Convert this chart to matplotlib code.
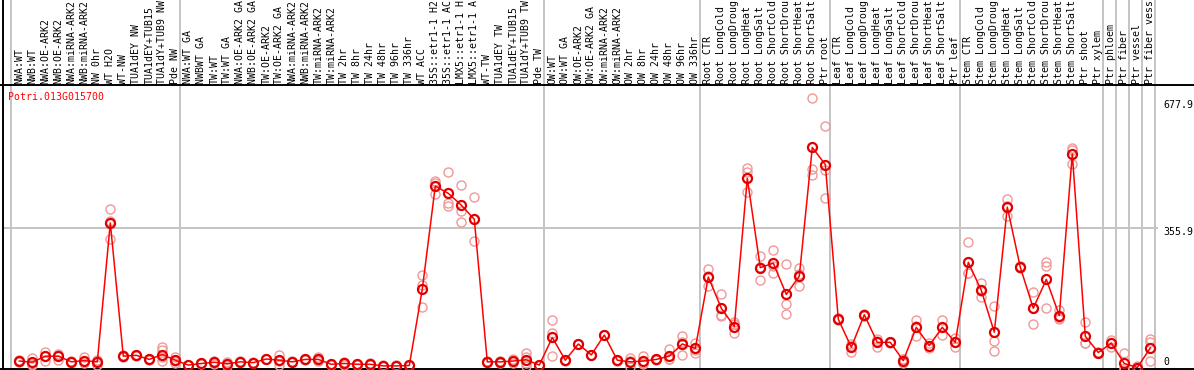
import matplotlib
matplotlib.use("Agg")
import matplotlib.pyplot as plt

gene = "Potri.013G015700"

labels = [
    "NWA:WT", "NWB:WT", "NWA:OE-ARK2", "NWB:OE-ARK2", "NWA:miRNA-ARK2", "NWB:miRNA-ARK2",
    "NW 0hr", "WT H2O", "WT-NW", "TUA1dEY NW", "TUA1dEY+TUB15", "TUA1dY+TUB9 NW", "Pde NW",
    "NWA:WT GA", "NWBWT GA", "TW:WT", "TW:WT GA", "NWA:OE-ARK2 GA", "NWB:OE-ARK2 GA",
    "TW:OE-ARK2", "TW:OE-ARK2 GA", "NWA:miRNA-ARK2", "NWB:miRNA-ARK2", "TW:miRNA-ARK2",
    "TW:miRNA-ARK2", "TW 2hr", "TW 8hr", "TW 24hr", "TW 48hr", "TW 96hr", "TW 336hr",
    "WT ACC", "35S::etr1-1 H2O", "35S::etr1-1 ACC", "LMX5::etr1-1 H2O", "LMX5::etr1-1 ACC",
    "WT-TW", "TUA1dEY TW", "TUA1dEY+TUB15", "TUA1dY+TUB9 TW", "Pde TW",
    "OW:WT", "OW:WT GA", "OW:OE-ARK2", "OW:OE-ARK2 GA", "OW:miRNA-ARK2", "OW:miRNA-ARK2",
    "OW 2hr", "OW 8hr", "OW 24hr", "OW 48hr", "OW 96hr", "OW 336hr",
    "Root CTR", "Root LongCold", "Root LongDrought", "Root LongHeat", "Root LongSalt",
    "Root ShortCold", "Root ShortDrought", "Root ShortHeat", "Root ShortSalt", "Ptr root",
    "Leaf CTR", "Leaf LongCold", "Leaf LongDrought", "Leaf LongHeat", "Leaf LongSalt",
    "Leaf ShortCold", "Leaf ShortDrought", "Leaf ShortHeat", "Leaf ShortSalt", "Ptr leaf",
    "Stem CTR", "Stem LongCold", "Stem LongDrought", "Stem LongHeat", "Stem LongSalt",
    "Stem ShortCold", "Stem ShortDrought", "Stem ShortHeat", "Stem ShortSalt", "Ptr shoot",
    "Ptr xylem", "Ptr phloem", "Ptr fiber", "Ptr vessel", "Ptr fiber vessel",
]

means = [
    29, 26, 41, 41, 27, 30, 27, 369, 41, 43, 33, 45, 31,
    19, 23, 26, 22, 27, 25, 34, 31, 27, 33, 33, 21, 23, 21, 21, 17, 17, 18,
    206, 460, 442, 413, 378, 27, 27, 29, 32, 19,
    87, 31, 71, 44, 93, 31, 27, 29, 33, 41, 71, 60,
    236, 159, 114, 479, 259, 270, 193, 238, 555, 513,
    132, 63, 143, 75, 75, 30, 112, 67, 112, 75,
    272, 203, 100, 408, 260, 159, 230, 141, 539, 90, 50,
    73, 23, 13, 61,
]

replicates = [
    [29, 31, 27], [36, 22, 20], [52, 29, 41], [45, 31, 46], [27, 28, 26], [39, 23, 30],
    [31, 19, 30], [403, 329, 375], [41, 39, 43], [43, 44, 42], [33, 34, 32],
    [64, 56, 40, 29], [40, 23, 30],
    [19, 18, 20], [23, 24, 22], [29, 22, 27], [27, 17, 22], [29, 26, 27], [27, 24, 25],
    [34, 35, 33], [44, 19, 30], [27, 28, 26], [33, 32, 34], [38, 30, 32], [21, 22, 20],
    [27, 20, 23], [21, 22, 20], [24, 18, 21], [17, 18, 16], [17, 18, 16], [18, 19, 17],
    [240, 216, 161], [473, 468, 440], [494, 417, 411], [463, 399, 371], [432, 324, 378],
    [27, 28, 26], [30, 24, 27], [33, 25, 29], [50, 40, 23, 17], [19, 20, 18],
    [129, 97, 41], [31, 32, 30], [71, 72, 70], [44, 45, 43], [93, 94, 92], [31, 32, 30],
    [36, 15, 29], [41, 22, 25], [33, 34, 32], [58, 33, 33], [91, 45, 76], [73, 50, 57],
    [256, 214, 238], [193, 141, 143], [126, 97, 119], [504, 495, 445], [288, 229, 260],
    [302, 245, 263], [267, 169, 144], [257, 214, 243], [677.9, 501, 487], [609, 499, 430],
    [132, 130, 134], [52, 66, 72], [143, 146, 140], [64, 78, 83], [75, 76, 74],
    [34, 23, 33], [130, 91, 115], [74, 60, 67], [130, 93, 113], [85, 64, 76],
    [323, 247, 246], [222, 186, 201], [164.5, 79, 54], [428, 386, 410], [260, 262, 258],
    [198, 119, 160], [274, 263, 159], [155, 132, 136], [554, 549, 513.5], [124, 73, 73],
    [50, 51, 50], [82, 64, 73], [48, 13, 8], [17, 9, 14], [83, 77, 29],
]

group_starts = [0, 13, 41, 53, 63, 73, 84, 85, 86, 87, 88]
ytick_values = [677.9, 355.9, 0]
ytick_labels = ["677.9", "355.9", "0"]
label_max_chars = 14  # the header area only shows this many characters

W, H = 1194, 370
fig = plt.figure(figsize=(W / 100, H / 100), dpi=100)
ax = fig.add_axes([0, 0, 1, 1])

# pixel mapping helpers (x: index -> px, y: value -> px from top)
x0, dx = 19.3, 13.0
y0, sy = 372.8, 0.406
ax.set_xlim(-x0 / dx, (W - x0) / dx)
ax.set_ylim((y0 - H) / sy, y0 / sy)
ax.axis("off")

def xpx(p):
    return (p - x0) / dx

def ypx(p):
    return (y0 - p) / sy

mono = "DejaVu Sans Mono"
fs = 7.1

# group separators
for g in group_starts:
    ax.axvline(g - 0.62, color="#c4c4c4", lw=1.4, zorder=1)

# horizontal grid line at middle value
ax.plot([xpx(3), xpx(1157)], [355.9, 355.9], color="#c4c4c4", lw=1.4, zorder=1)

# frame lines
ax.plot([xpx(0), xpx(W)], [ypx(85), ypx(85)], color="black", lw=1.4, zorder=2)
ax.plot([xpx(0), xpx(W)], [ypx(369), ypx(369)], color="black", lw=1.4, zorder=2)
ax.axvline(xpx(3), color="black", lw=1.4, zorder=2)

# replicates
for i, reps in enumerate(replicates):
    ax.plot([i] * len(reps), reps, linestyle="none", marker="o", ms=6.5,
            mfc="none", mec="#ee9999", mew=1.0, zorder=3)

# means
xs = list(range(len(means)))
ax.plot(xs, means, color="#ff0000", lw=1.1, zorder=4)
ax.plot(xs, means, linestyle="none", marker="o", ms=6.5, mfc="none",
        mec="#e00000", mew=1.6, zorder=5)

# sample labels
for i, lab in enumerate(labels):
    ax.text(i, ypx(83.8), lab[:label_max_chars], rotation=90, ha="center", va="bottom",
            family=mono, fontsize=fs, color="black", zorder=6)

# gene label
ax.text(xpx(8), ypx(97), gene, ha="left", va="center", family=mono,
        fontsize=fs, color="#ff0000")

# y labels
ypos = [105, 232, 362]
for v, lab, yp in zip(ytick_values, ytick_labels, ypos):
    ax.text(xpx(1163), ypx(yp), lab, ha="left", va="center", family=mono,
            fontsize=fs, color="black")

fig.savefig("out.png", dpi=100)
